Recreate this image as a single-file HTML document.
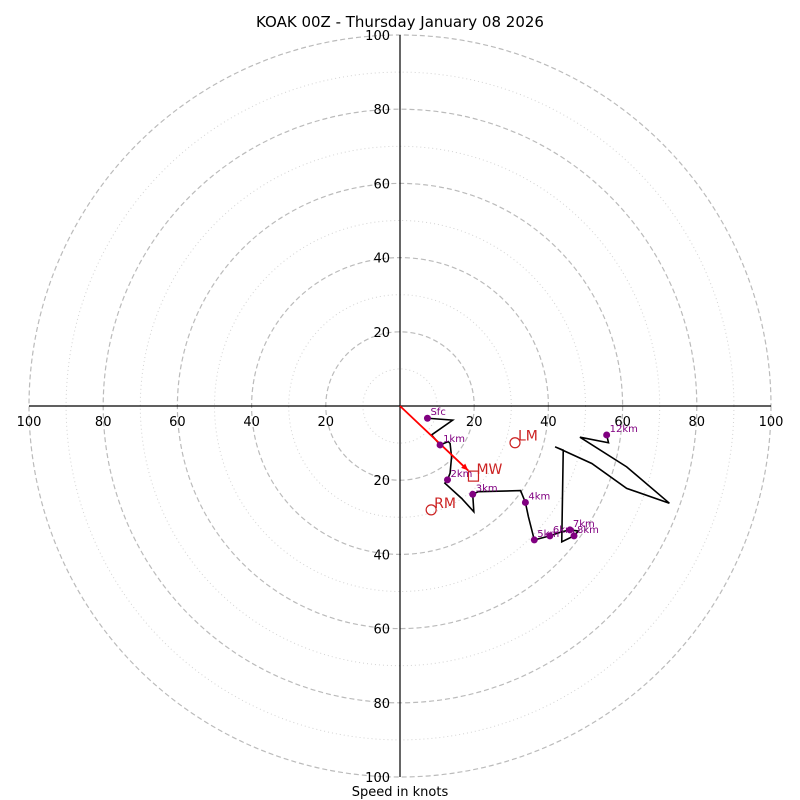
<!DOCTYPE html>
<html><head><meta charset="utf-8"><style>
html,body{margin:0;padding:0;background:#fff;}
svg{display:block;font-family:"DejaVu Sans","Liberation Sans",sans-serif;}
</style></head><body>
<svg id="chart" width="800" height="800" viewBox="0 0 800 800">
<text x="400" y="27" text-anchor="middle" font-size="15">KOAK 00Z - Thursday January 08 2026</text>
<g id="grid"></g>
<g id="axes"></g>
<g id="trace"></g>
<text x="400" y="796" text-anchor="middle" font-size="13">Speed in knots</text>
</svg>
<script>
const ringValues=[10,20,30,40,50,60,70,80,90,100];
const tickLabels=[20,40,60,80,100];
const traceU=[7.4,14.2,8.5,10.8,13.0,13.5,13.9,13.5,12.8,12.1,16.6,19.9,19.6,21.1,32.5,33.8,34.6,36.2,40.4,43.6,45.8,48.1,46.9,43.6,44.0,41.8,43.8,51.7,61.1,72.6,61.1,48.5,56.2,55.7];
const traceV=[-3.3,-3.8,-7.8,-10.5,-9.6,-10.1,-13.7,-18.1,-19.9,-20.8,-24.9,-28.5,-23.8,-23.1,-22.8,-26.0,-29.8,-36.1,-35.0,-33.9,-33.4,-33.7,-35.0,-36.6,-11.9,-11.0,-11.9,-15.5,-22.2,-26.2,-16.4,-8.4,-9.9,-7.8];
const markerIdx=[0,3,8,12,15,17,18,20,22,33];
const markerLabels=["Sfc","1km","2km","3km","4km","5km","6km","7km","8km","12km"];
const motionNames=["LM","MW","RM"];
const motionU=[31.0,19.8,8.4];
const motionV=[-9.9,-18.9,-28.0];
const meanArrowU=18.4, meanArrowV=-17.4;

const NS="http://www.w3.org/2000/svg";
const cx=400, cy=406, scale=3.71;
const X=u=>cx+u*scale, Y=v=>cy-v*scale;
function mk(tag,parent,attrs){const e=document.createElementNS(NS,tag);for(const k in attrs)e.setAttribute(k,attrs[k]);parent.appendChild(e);return e;}
const grid=document.getElementById('grid'),axes=document.getElementById('axes'),trace=document.getElementById('trace');
ringValues.forEach(r=>{
  const major=r%20===0;
  const c=mk('circle',grid,{cx:cx,cy:cy,r:r*scale,fill:'none',stroke:major?'#bbbbbb':'#d3d3d3','stroke-width':major?1.2:1,'stroke-dasharray':major?'5,3':'1,3'});
  
  
});
const hl=mk('line',axes,{x1:X(-100),y1:cy,x2:X(100),y2:cy,stroke:'#000','stroke-width':1.2});


const vl=mk('line',axes,{x1:cx,y1:Y(100),x2:cx,y2:Y(-100),stroke:'#000','stroke-width':1.2});


tickLabels.forEach(t=>{
  [1,-1].forEach(s=>{
    const tx=mk('text',axes,{x:X(s*t),y:cy+20,'text-anchor':'middle','font-size':13});
    tx.textContent=t;
    
    
    const ty=mk('text',axes,{x:cx-10,y:Y(s*t)+5,'text-anchor':'end','font-size':13});
    ty.textContent=t;
    
    
  });
});
const pts=traceU.map((u,i)=>X(u)+','+Y(traceV[i])).join(' ');
const pl=mk('polyline',trace,{points:pts,fill:'none',stroke:'#000','stroke-width':1.6,'stroke-linejoin':'miter'});


const ar=mk('line',trace,{x1:cx,y1:cy,x2:X(meanArrowU),y2:Y(meanArrowV),stroke:'#ff0000','stroke-width':1.8});


{const ex=X(meanArrowU),ey=Y(meanArrowV);const ang=Math.atan2(ey-cy,ex-cx);const L=7,W=3;
 const p=[[ex,ey],[ex-L*Math.cos(ang)+W*Math.sin(ang),ey-L*Math.sin(ang)-W*Math.cos(ang)],[ex-L*Math.cos(ang)-W*Math.sin(ang),ey-L*Math.sin(ang)+W*Math.cos(ang)]];
 const h=mk('polygon',trace,{points:p.map(q=>q.join(',')).join(' '),fill:'#ff0000'});
 
 }
markerIdx.forEach((idx,k)=>{
  const c=mk('circle',trace,{cx:X(traceU[idx]),cy:Y(traceV[idx]),r:3.5,fill:'#800080'});
  
  
  const t=mk('text',trace,{x:X(traceU[idx])+3,y:Y(traceV[idx])-3,'font-size':10,fill:'#800080'});
  t.textContent=markerLabels[k];
  
  
});
motionNames.forEach((n,i)=>{
  const x=X(motionU[i]),y=Y(motionV[i]);
  let m;
  if(n==='MW'){m=mk('rect',trace,{x:x-5,y:y-5,width:10,height:10,fill:'none',stroke:'#cc2222','stroke-width':1.2});}
  else{m=mk('circle',trace,{cx:x,cy:y,r:5,fill:'none',stroke:'#cc2222','stroke-width':1.2});}
  
  
  const t=mk('text',trace,{x:x+3,y:y-2,'font-size':14,fill:'#cc2222'});
  t.textContent=n;
  
  
});
</script>
</body></html>
